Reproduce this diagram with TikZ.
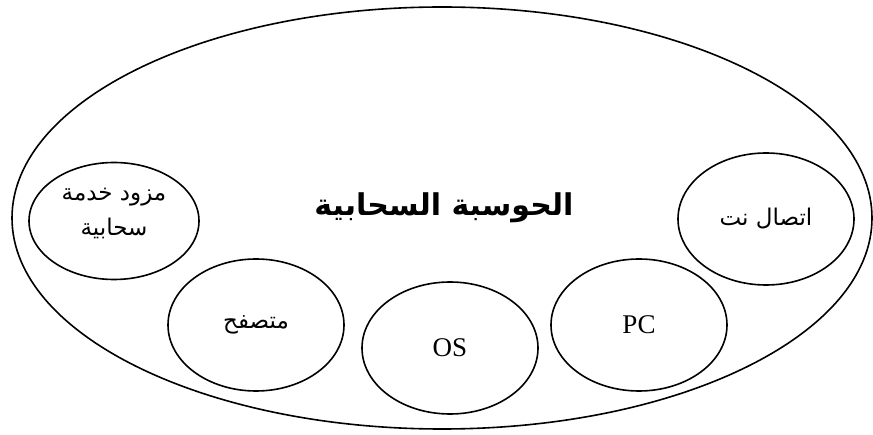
\documentclass[tikz,border=0pt]{standalone}
\usepackage{fontspec}
\usepackage{tikz}
\usetikzlibrary{shapes.geometric}
\setmainfont{Liberation Serif}
\newfontfamily\arabicfont[Script=Arabic]{DejaVu Sans}
\TeXXeTstate=1

\begin{document}
\begin{tikzpicture}[x=1pt, y=-1pt,
    part/.style={ellipse, draw=black, line width=1.6pt,
                 minimum width=176pt, minimum height=132pt,
                 inner sep=0pt, font=\fontsize{27}{30}\selectfont},
    arabic/.style={font=\arabicfont\fontsize{23}{35}\selectfont}]
    \useasboundingbox (0,0) rectangle (873,435);
    % Add the outer ellipse
        \node[ellipse,
              draw=black,
              line width=1.6pt,
              minimum width=860pt,
              minimum height=422pt] (cloud) at (442,218) {};
        \node[font=\arabicfont\bfseries\fontsize{30}{34}\selectfont] (title) at (444,208)
              {\beginR الحوسبة السحابية\endR};

    % Add the parts
        \node[part, arabic,
              minimum width=170pt,
              minimum height=117pt,
              align=center,
              text depth=18pt] (provider) at (114,221)
              {\beginR مزود خدمة\endR\\\beginR سحابية\endR};
        \node[part, arabic] (browser) at (256,325)
              {\beginR متصفح\endR};
        \node[part] (os) at (450,348) {OS};
        \node[part] (pc) at (639,325) {PC};
        \node[part, arabic] (net) at (766,219)
              {\beginR اتصال نت\endR};
\end{tikzpicture}
\end{document}
